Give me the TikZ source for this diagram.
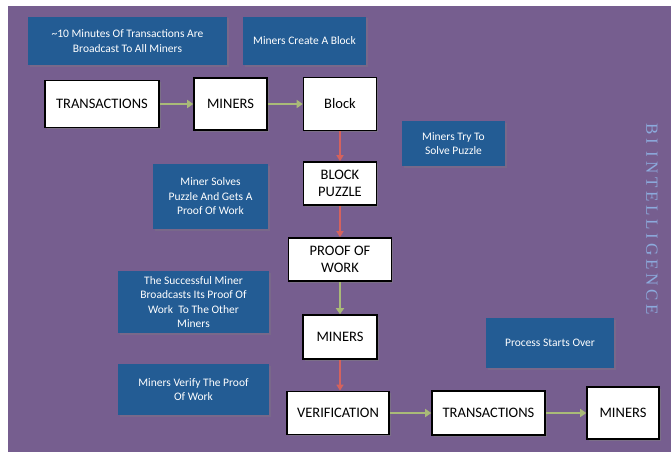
\documentclass[tikz,border=0pt]{standalone}
\usepackage{fontspec}
\setmainfont{Carlito}
\newfontfamily\bifont[LetterSpace=22]{Liberation Serif}
\usetikzlibrary{arrows.meta,shadows}
\definecolor{bgpurple}{RGB}{118,94,143}
\definecolor{boxblue}{RGB}{35,92,148}
\definecolor{arrowgreen}{RGB}{169,186,120}
\definecolor{arrowred}{RGB}{212,98,94}
\definecolor{bitext}{RGB}{140,170,220}
\tikzset{
  wbox/.style={draw=black, line width=1.6pt, fill=white, text=black, align=center,
    font=\fontsize{14.5}{17}\selectfont, inner sep=0pt,
    drop shadow={shadow xshift=1.5pt, shadow yshift=-1.5pt, opacity=0.5}},
  bbox/.style={fill=boxblue, text=white, align=center,
    font=\fontsize{11.5}{14.5}\selectfont, inner sep=0pt,
    drop shadow={shadow xshift=1.5pt, shadow yshift=-1.5pt, opacity=0.3}},
  garrow/.style={draw=arrowgreen, line width=2.5pt, -{Triangle[length=6pt,width=8pt]}},
  rarrow/.style={draw=arrowred, line width=1.4pt, -{Triangle[length=6pt,width=7pt]}},
}
\begin{document}
\begin{tikzpicture}[x=1pt,y=-1pt]
\useasboundingbox (0,0) rectangle (671,452);
\fill[white] (0,0) rectangle (671,452);
\fill[bgpurple] (8,6) rectangle (671,452);

% blue description boxes
\node[bbox, minimum width=199pt, minimum height=48pt] (bA) at (127.5,41) {\textasciitilde10 Minutes Of Transactions Are\\Broadcast To All Miners};
\node[bbox, minimum width=123pt, minimum height=48pt] (bB) at (304.5,41) {Miners Create A Block};
\node[bbox, minimum width=103pt, minimum height=45pt] (bC) at (453.5,143.5) {Miners Try To\\Solve Puzzle};
\node[bbox, minimum width=115pt, minimum height=65pt] (bD) at (210.5,196.5) {Miner Solves\\Puzzle And Gets A\\Proof Of Work};
\node[bbox, minimum width=151pt, minimum height=62pt] (bE) at (193.5,302) {The Successful Miner\\Broadcasts Its Proof Of\\Work\ \ To The Other\\Miners};
\node[bbox, minimum width=128pt, minimum height=50pt] (bF) at (550,343) {Process Starts Over};
\node[bbox, minimum width=151pt, minimum height=51pt] (bG) at (193.5,389.5) {Miners Verify The Proof\\Of Work};

% white process boxes
\node[wbox, minimum width=114pt, minimum height=47pt] (t1) at (102,104) {TRANSACTIONS};
\node[wbox, minimum width=73pt, minimum height=52pt] (m1) at (230.5,104) {MINERS};
\node[wbox, minimum width=73pt, minimum height=53pt] (blk) at (340,104) {Block};
\node[wbox, minimum width=73pt, minimum height=43pt] (bp) at (340,183.5) {BLOCK\\PUZZLE};
\node[wbox, minimum width=103pt, minimum height=43pt] (pow) at (340,259.5) {PROOF OF\\WORK};
\node[wbox, minimum width=74pt, minimum height=44pt] (m2) at (340,337) {MINERS};
\node[wbox, minimum width=102pt, minimum height=43pt] (ver) at (338,413) {VERIFICATION};
\node[wbox, minimum width=113pt, minimum height=44pt] (t2) at (488.5,413) {TRANSACTIONS};
\node[wbox, minimum width=72pt, minimum height=52pt] (m3) at (623,413) {MINERS};

% connectors
\draw[garrow] (t1.east) -- (m1.west);
\draw[garrow] (m1.east) -- (blk.west);
\draw[rarrow] (blk.south) -- (bp.north);
\draw[rarrow] (bp.south) -- (pow.north);
\draw[garrow] (pow.south) -- (m2.north);
\draw[rarrow] (m2.south) -- (m2.south |- ver.north);
\draw[garrow] (ver.east) -- (t2.west);
\draw[garrow] (t2.east) -- (m3.west);

% side label
\node[rotate=-90, text=bitext, inner sep=0pt] (bi) at (652,219)
  {\bifont\fontsize{17}{17}\selectfont BI INTELLIGENCE};
\end{tikzpicture}
\end{document}
